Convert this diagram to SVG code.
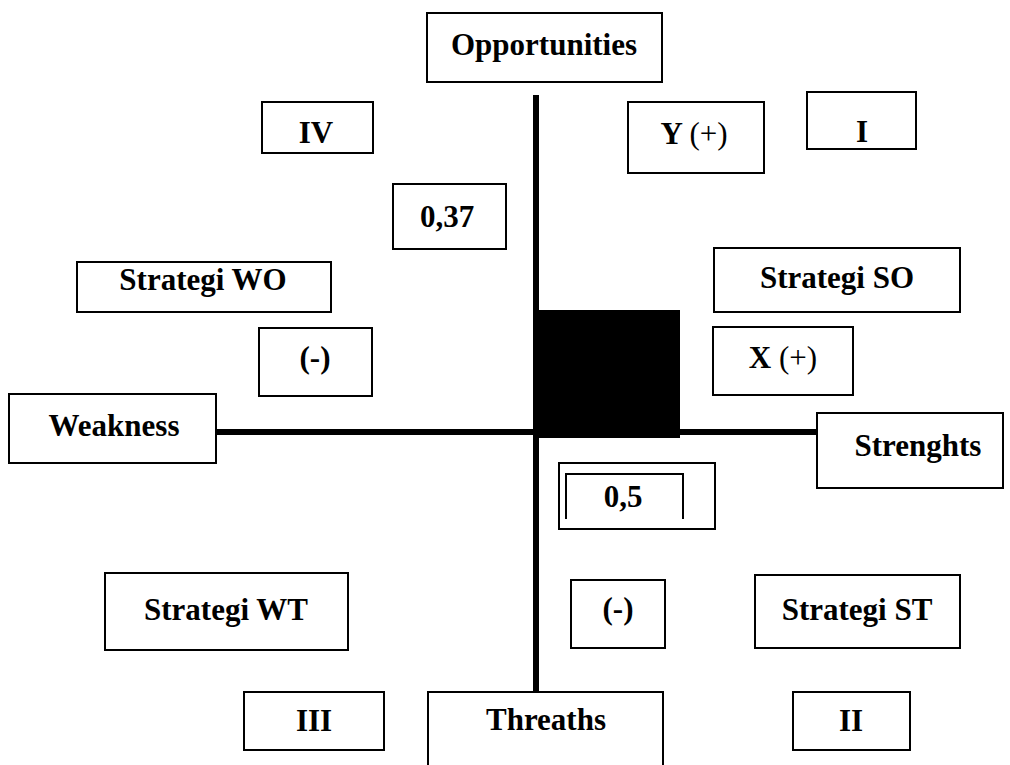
<svg xmlns="http://www.w3.org/2000/svg" width="1010" height="765" viewBox="0 0 1010 765">
<style>
.box{fill:#fff;stroke:#000;stroke-width:2}
.t{font-family:"Liberation Serif","Times New Roman",serif;font-weight:bold;font-size:31px;fill:#000;text-anchor:middle}
.n{font-weight:normal}
.ax{stroke:#000;stroke-width:6;fill:none}
</style>
<rect width="1010" height="765" fill="#fff"/>
<g id="connectors">
<line class="ax" x1="536" y1="95" x2="536" y2="692"/>
<line class="ax" x1="216" y1="432" x2="816" y2="432"/>
</g>
<g id="center-square"><rect x="533" y="310" width="147" height="128" fill="#000"/></g>
<g id="opportunities"><rect class="box" x="427" y="13" width="235" height="69"/><text class="t" x="544" y="55">Opportunities</text></g>
<g id="weakness"><rect class="box" x="9" y="394" width="207" height="69"/><text class="t" x="114" y="436">Weakness</text></g>
<g id="strenghts"><rect class="box" x="817" y="413" width="186" height="75"/><text class="t" x="918" y="456">Strenghts</text></g>
<g id="threaths"><rect class="box" x="428" y="692" width="235" height="85"/><text class="t" x="546" y="730">Threaths</text></g>
<g id="quadrant-iv"><rect class="box" x="262" y="102" width="111" height="51"/><text class="t" x="316" y="143">IV</text></g>
<g id="y-plus"><rect class="box" x="628" y="102" width="136" height="71"/><text class="t" x="694" y="144">Y <tspan class="n">(+)</tspan></text></g>
<g id="quadrant-i"><rect class="box" x="807" y="92" width="109" height="57"/><text class="t" x="862" y="142">I</text></g>
<g id="value-037"><rect class="box" x="393" y="184" width="113" height="65"/><text class="t" x="447" y="227">0,37</text></g>
<g id="strategi-wo"><rect class="box" x="77" y="262" width="254" height="50"/><text class="t" x="203" y="290">Strategi WO</text></g>
<g id="strategi-so"><rect class="box" x="714" y="248" width="246" height="64"/><text class="t" x="837" y="288">Strategi SO</text></g>
<g id="minus-left"><rect class="box" x="259" y="328" width="113" height="68"/><text class="t" x="315" y="368">(-)</text></g>
<g id="x-plus"><rect class="box" x="713" y="327" width="140" height="68"/><text class="t" x="783" y="368">X <tspan class="n">(+)</tspan></text></g>
<g id="value-05"><rect class="box" x="559" y="463" width="156" height="66"/><path d="M566 519V474H683V519" fill="none" stroke="#000" stroke-width="2"/><text class="t" x="623" y="507">0,5</text></g>
<g id="strategi-wt"><rect class="box" x="105" y="573" width="243" height="77"/><text class="t" x="226" y="620">Strategi WT</text></g>
<g id="minus-bottom"><rect class="box" x="571" y="580" width="94" height="68"/><text class="t" x="618" y="619">(-)</text></g>
<g id="strategi-st"><rect class="box" x="755" y="575" width="205" height="73"/><text class="t" x="857" y="620">Strategi ST</text></g>
<g id="quadrant-iii"><rect class="box" x="244" y="692" width="140" height="58"/><text class="t" x="314" y="731">III</text></g>
<g id="quadrant-ii"><rect class="box" x="793" y="692" width="117" height="58"/><text class="t" x="851" y="731">II</text></g>
</svg>
